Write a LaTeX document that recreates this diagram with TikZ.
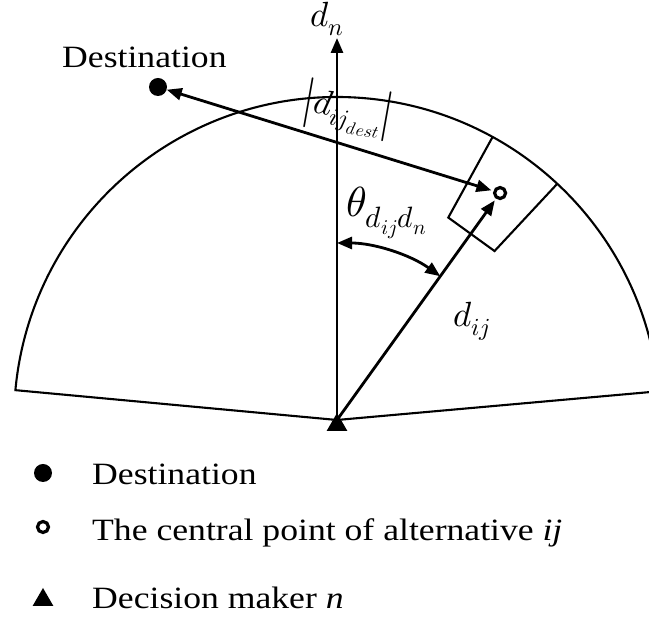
\documentclass[tikz,border=0pt]{standalone}
\usepackage{fontspec}
\usepackage{unicode-math}
\setmainfont{Liberation Serif}
\newfontfamily\lblfont{Liberation Serif}[FakeStretch=1.15]
\usetikzlibrary{arrows.meta,shapes.geometric,calc}
\begin{document}
\begin{tikzpicture}[x=1pt,y=1pt,
  tip/.tip={Triangle[length=15pt,width=12pt]},
  arr/.style={line width=2.8pt, -tip},
  darr/.style={line width=2.8pt, tip-tip},
  outl/.style={line width=2.1pt, line join=miter},
  lbl/.style={font=\lblfont\fontsize{31}{37}\selectfont, inner sep=0, anchor=base west},
  mlbl/.style={font=\fontsize{35}{40}\selectfont, inner sep=0},
  ring/.style={circle, draw, line width=3.2pt, minimum size=11pt, inner sep=0},
  dot/.style={circle, fill, minimum size=18pt, inner sep=0},
  tri/.style={regular polygon, regular polygon sides=3, fill, minimum size=24pt, inner sep=0}
]
\useasboundingbox (0,0) rectangle (649,617);
\clip (0,0) rectangle (649,617);
\coordinate (A) at (337,197);
% sector
\draw[outl] (A) -- ++(174.7:323) arc[start angle=174.7,end angle=5.1,radius=323] -- cycle;
% alternative box
\draw[outl] ($(A)+(61.2:323)$) -- ($(A)+(61.2:231)$) -- ($(A)+(47:231)$) -- ($(A)+(47:323)$);
% points
\node[ring] (C) at ($(A)+(54.3:279.5)$) {};
\node[dot] (D) at (158,530) {};
\node[tri] (T) at (337,192) {};
\coordinate (top) at (337,579);
% arrows
\draw[arr] (A) -- (top);
\draw[arr, shorten >=2pt] (A) -- (C);
\draw[darr, shorten >=2pt] (D) -- (C);
\draw[darr] ($(A)+(54.3:177)$) arc[start angle=54.3,end angle=90,radius=177];
% labels
\node[mlbl, anchor=base west] (dn) at (310,590) {$d_n$};
\node[mlbl, anchor=base west] (dij) at (453,290) {$d_{ij}$};
\node[font=\fontsize{42}{48}\selectfont, inner sep=0, anchor=base west] (th) at (346,400) {$\theta_{d_{ij}d_n}$};
\node[mlbl, rotate=-10] (dd) at (348,507) {$\left|d_{ij_{dest}}\right|$};
\node[lbl] (dtext) at (62,549) {Destination};
% legend
\node[dot] (l1) at (43,144) {};
\node[lbl] (t1) at (92,132) {Destination};
\node[ring] (l2) at (43,90) {};
\node[lbl] (t2) at (92,76) {The central point of alternative \textit{ij}};
\node[tri] (l3) at (43,17) {};
\node[lbl] (t3) at (92,8) {Decision maker \textit{n}};
\end{tikzpicture}
\end{document}
